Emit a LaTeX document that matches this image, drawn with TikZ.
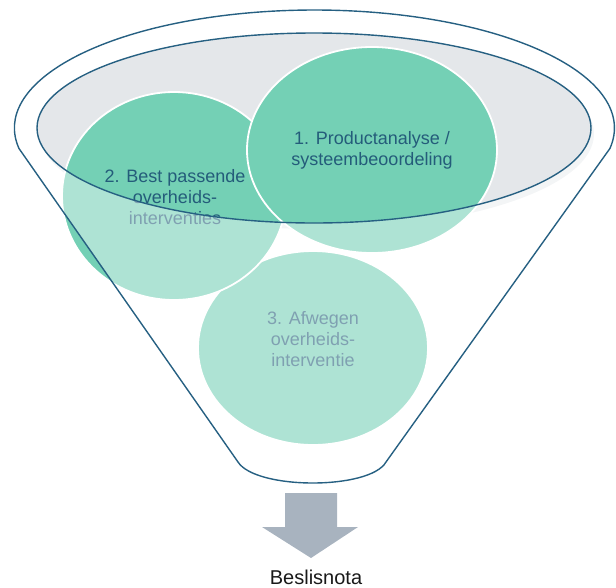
\documentclass[tikz,border=0pt]{standalone}
\usepackage{fontspec}
\setmainfont{Liberation Sans}
\usetikzlibrary{shapes.geometric}
\definecolor{tealdark}{RGB}{116,208,181}
\definecolor{rimgray}{RGB}{228,231,234}
\definecolor{rimline}{RGB}{38,96,130}
\definecolor{txtblue}{RGB}{36,92,122}
\definecolor{arrowgray}{RGB}{168,179,191}
\tikzset{
  circ/.style={ellipse, fill=tealdark, draw=white, line width=1.8pt, inner sep=0pt},
  circtext/.style={align=center, text=txtblue, font=\fontsize{18}{21}\selectfont},
  outline/.style={draw=rimline, line width=1.4pt},
}
\begin{document}
\begin{tikzpicture}[x=1pt,y=-1pt]
\useasboundingbox (0,0) rectangle (616,587);
% shadow and gray opening
\fill[rimgray!70] (317,134) ellipse [x radius=277, y radius=95];
\fill[rimgray] (314,128) ellipse [x radius=277, y radius=95];
% circles
\node[circ, minimum width=230pt, minimum height=194pt] (c3) at (313,348) {};
\node[circ, minimum width=224pt, minimum height=208pt] (c2) at (174,196) {};
\node[circ, minimum width=250pt, minimum height=206pt] (c1) at (372,150) {};
\node[circtext] (t3) at (313,339) {3. Afwegen\\overheids-\\interventie};
\node[circtext] (t2) at (175,197) {2. Best passende\\overheids-\\interventies};
\node[circtext] (t1) at (372,150) {1. Productanalyse /\\systeembeoordeling};
% funnel body overlay
\fill[white, fill opacity=0.42, even odd rule]
  (19,148.5) arc[start angle=170, end angle=370, x radius=300, y radius=118]
  -- (386,462) .. controls (370,490) and (256,490) .. (238,462) -- cycle
  (314,128) ellipse [x radius=277, y radius=95];
% outlines
\draw[outline] (314,128) ellipse [x radius=277, y radius=95];
\draw[outline, line join=round]
  (19,148.5) arc[start angle=170, end angle=370, x radius=300, y radius=118]
  -- (386,462) .. controls (370,490) and (256,490) .. (238,462) -- cycle;
% arrow
\fill[arrowgray] (285,493) -- (337,493) -- (337,527) -- (358,527) -- (311,558)
  -- (262,527) -- (285,527) -- cycle;
\node[text=black!90, font=\fontsize{20}{24}\selectfont] (out) at (316,577) {Beslisnota};
\end{tikzpicture}
\end{document}
